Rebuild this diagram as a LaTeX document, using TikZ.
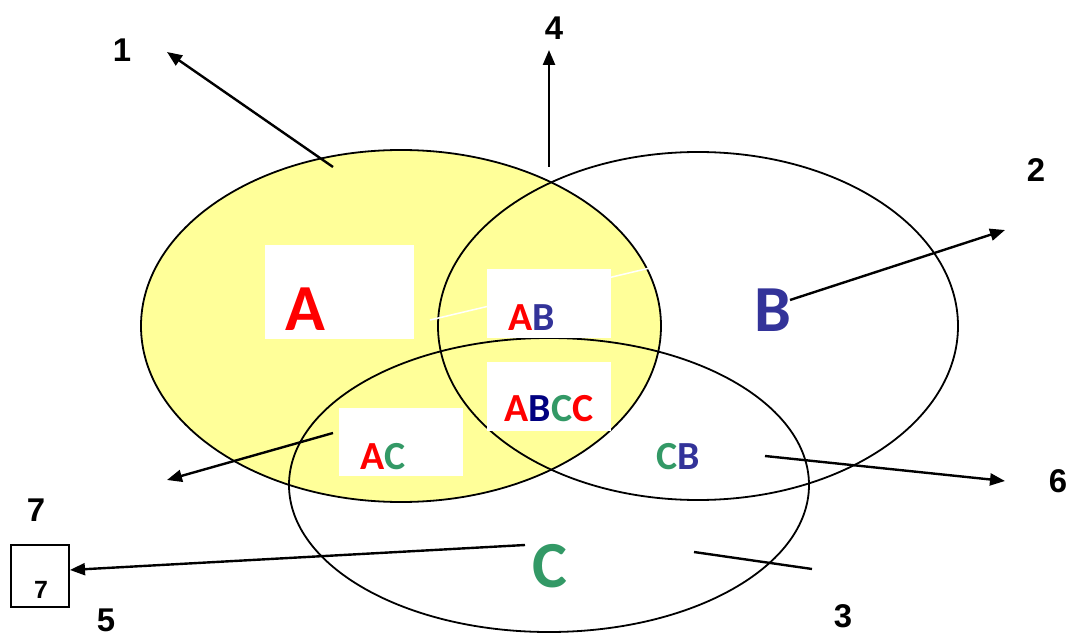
\documentclass[tikz,border=0pt]{standalone}
\usepackage{fontspec}
\newfontfamily\lett{Carlito}
\newfontfamily\numf{Liberation Sans}
\usetikzlibrary{shapes.geometric,arrows.meta}
\definecolor{yel}{RGB}{255,255,153}
\definecolor{myred}{RGB}{255,0,0}
\definecolor{myblue}{RGB}{51,51,153}
\definecolor{navy}{RGB}{0,0,128}
\definecolor{mygreen}{RGB}{51,153,102}
\tikzset{
  venn/.style={ellipse, draw=black, line width=1.8bp, inner sep=0pt},
  wbox/.style={rectangle, fill=white, inner sep=0pt},
  big/.style={inner sep=0pt, font=\lett\bfseries\fontsize{66}{66}\selectfont},
  mid/.style={inner sep=0pt, font=\lett\bfseries\fontsize{40}{40}\selectfont},
  num/.style={inner sep=0pt, font=\numf\bfseries\fontsize{33}{33}\selectfont},
  arr/.style={line width=2.4bp, -{Triangle[length=15bp,width=12bp]}},
  plain/.style={line width=2.4bp},
}
\begin{document}
\begin{tikzpicture}[x=1bp,y=-1bp]
\useasboundingbox (0,0) rectangle (1071,636);
% ellipses
\node[venn, fill=yel, minimum width=520bp, minimum height=352bp] (EA) at (401,326) {};
\node[venn, minimum width=520bp, minimum height=348bp] (EB) at (698,326) {};
\node[venn, minimum width=520bp, minimum height=294bp] (EC) at (549,485) {};
% faint white line
\coordinate (w1) at (430,320);
\coordinate (w2) at (650,268);
\draw[white, line width=1.5bp] (w1) -- (w2);
% white boxes
\node[wbox, minimum width=149bp, minimum height=94bp] (bA) at (339.5,292) {};
\node[wbox, minimum width=124bp, minimum height=69bp] (bAB) at (549,303.5) {};
\node[wbox, minimum width=124bp, minimum height=69bp] (bABC) at (549,396.5) {};
\node[wbox, minimum width=124bp, minimum height=68bp] (bAC) at (401,442) {};
% region labels
\node[big, text=myred] (tA) at (305,309) {A};
\node[big, text=myblue] (tB) at (773,310) {B};
\node[big, text=mygreen] (tC) at (550,566) {C};
\node[mid] (tAB) at (532,318) {\textcolor{myred}{A}\textcolor{myblue}{B}};
\node[mid] (tABCC) at (549,409) {\textcolor{myred}{A}\textcolor{navy}{B}\textcolor{mygreen}{C}\textcolor{myred}{C}};
\node[mid] (tAC) at (383,457) {\textcolor{myred}{A}\textcolor{mygreen}{C}};
\node[mid] (tCB) at (678,457) {\textcolor{mygreen}{C}\textcolor{myblue}{B}};
% number labels
\node[num] (n1) at (122,50) {1};
\node[num] (n4) at (554,28) {4};
\node[num] (n2) at (1036,170) {2};
\node[num] (n6) at (1058,481) {6};
\node[num] (n7) at (36,510) {7};
\node[num] (n5) at (106,620) {5};
\node[num] (n3) at (843,616) {3};
% box 7
\node[draw=black, line width=1.8bp, minimum width=58bp, minimum height=62bp, inner sep=0pt] (box7) at (40,576) {};
\node[inner sep=0pt, font=\numf\bfseries\fontsize{25}{25}\selectfont] (t7) at (41,590) {7};
% arrow coordinates
\coordinate (s1) at (333,167); \coordinate (e1) at (167,52);
\coordinate (s4) at (549,167); \coordinate (e4) at (549,50);
\coordinate (s2) at (790,300); \coordinate (e2) at (1005,230);
\coordinate (s6) at (765,456); \coordinate (e6) at (1005,481);
\coordinate (sAC) at (333,433); \coordinate (eAC) at (167,480);
\coordinate (sC) at (525,545); \coordinate (e7) at (70,570);
\coordinate (s3) at (694,552); \coordinate (e3) at (812,569);
% arrows
\draw[arr] (s1) -- (e1);
\draw[arr] (s4) -- (e4);
\draw[arr] (s2) -- (e2);
\draw[arr] (s6) -- (e6);
\draw[arr] (sAC) -- (eAC);
\draw[arr] (sC) -- (e7);
\draw[plain] (s3) -- (e3);
\end{tikzpicture}
\end{document}
